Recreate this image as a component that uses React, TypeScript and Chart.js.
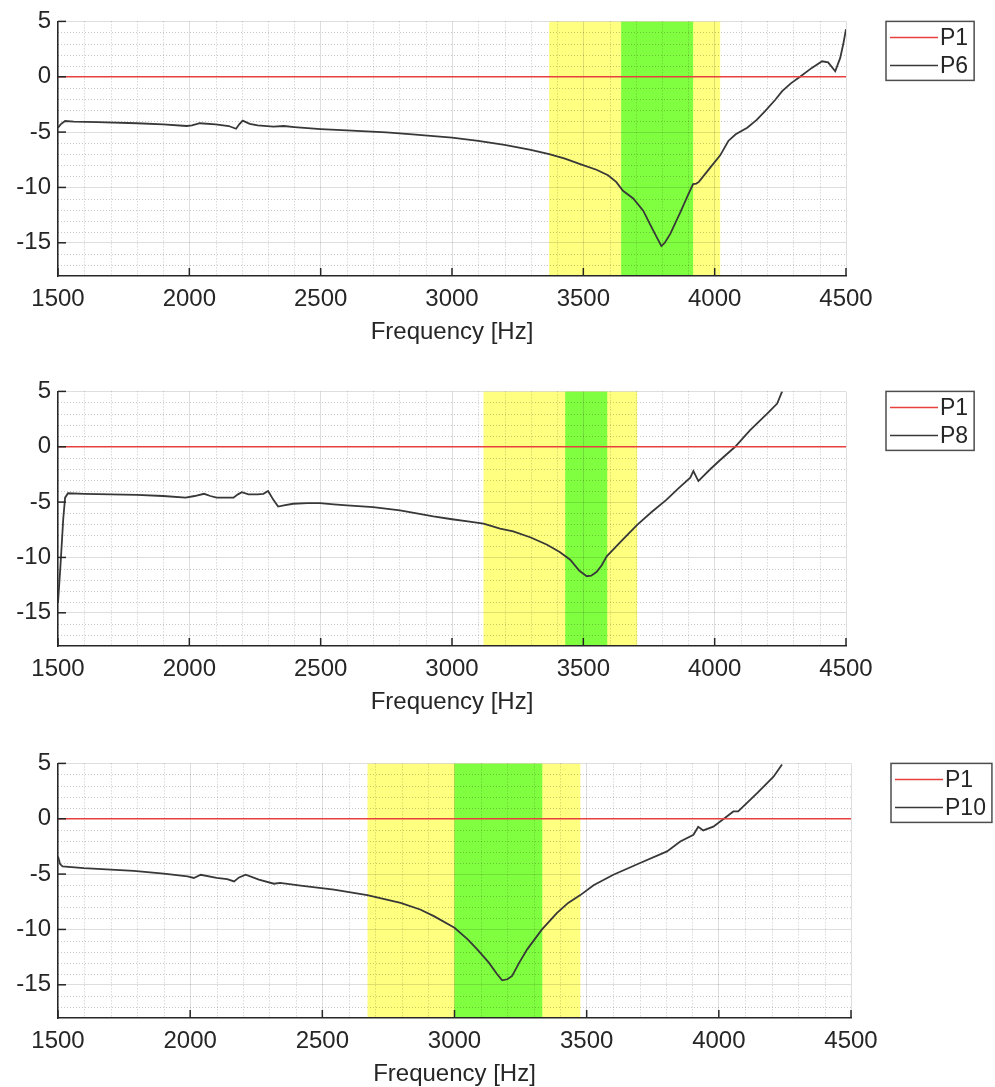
import React, { useEffect, useRef } from "react";
import { Chart, registerables } from "chart.js";

Chart.register(...registerables);

// ---------- data ----------
const X_TICKS = [1500, 2000, 2500, 3000, 3500, 4000, 4500];
const Y_TICKS = [5, 0, -5, -10, -15];
const X_MIN = 1500;
const X_MAX = 4500;
const Y_MIN = -18;
const Y_MAX = 5;

const P1_FREQ = [1500, 4500];
const P1_VALS = [0, 0];

const P6_FREQ = [
  1500, 1510, 1527, 1560, 1650, 1800, 1900, 1990, 2010, 2040, 2100, 2150, 2178, 2190, 2203, 2230, 2260,
  2320, 2360, 2400, 2450, 2500, 2600, 2750, 2850, 3000, 3100, 3200, 3300, 3370, 3430, 3488, 3550, 3594,
  3625, 3651, 3690, 3728, 3760, 3797, 3810, 3831, 3870, 3900, 3918, 3930, 3940, 3980, 4021, 4052, 4080,
  4124, 4160, 4192, 4230, 4257, 4290, 4325, 4370, 4409, 4432, 4459, 4478, 4490, 4500,
];
const P6_VALS = [
  -4.6, -4.3, -4.0, -4.05, -4.1, -4.2, -4.3, -4.45, -4.4, -4.2, -4.3, -4.45, -4.7, -4.3, -3.97, -4.25, -4.4,
  -4.5, -4.45, -4.55, -4.65, -4.73, -4.85, -5.03, -5.2, -5.5, -5.8, -6.15, -6.6, -7.0, -7.4, -7.9, -8.4, -8.9,
  -9.5, -10.3, -11.0, -12.1, -13.6, -15.3, -15.0, -14.2, -12.2, -10.6, -9.7, -9.65, -9.5, -8.3, -7.1, -5.8, -5.2,
  -4.6, -3.9, -3.1, -2.1, -1.3, -0.6, 0.0, 0.8, 1.4, 1.3, 0.5, 1.7, 3.0, 4.3,
];

const P8_FREQ = [
  1500, 1510, 1520, 1527, 1538, 1600, 1700, 1800, 1900, 1986, 2020, 2056, 2080, 2104, 2168, 2185, 2200,
  2225, 2260, 2282, 2300, 2320, 2338, 2360, 2395, 2450, 2497, 2550, 2600, 2700, 2802, 2929, 3000, 3060,
  3120, 3183, 3233, 3300, 3362, 3410, 3450, 3485, 3513, 3530, 3551, 3570, 3589, 3650, 3705, 3760, 3816,
  3860, 3907, 3919, 3938, 3980, 4021, 4078, 4135, 4200, 4238, 4257,
];
const P8_VALS = [
  -14.1, -10.5, -6.5, -4.6, -4.2, -4.25, -4.3, -4.35, -4.45, -4.6, -4.45, -4.25, -4.45, -4.6, -4.6, -4.3, -4.1,
  -4.3, -4.3, -4.25, -4.0, -4.8, -5.4, -5.3, -5.15, -5.1, -5.1, -5.2, -5.3, -5.45, -5.75, -6.3, -6.55, -6.75,
  -6.95, -7.4, -7.65, -8.2, -8.85, -9.5, -10.2, -11.2, -11.7, -11.65, -11.3, -10.7, -9.9, -8.4, -7.05, -5.9, -4.8,
  -3.8, -2.8, -2.2, -3.1, -2.1, -1.2, 0.0, 1.5, 3.0, 3.9, 5.0,
];

const P10_FREQ = [
  1500, 1508, 1517, 1598, 1700, 1787, 1900, 1990, 2014, 2040, 2100, 2140, 2166, 2185, 2210, 2260, 2317,
  2340, 2418, 2544, 2670, 2796, 2870, 2922, 3000, 3050, 3086, 3130, 3160, 3180, 3200, 3218, 3245, 3275,
  3331, 3388, 3430, 3476, 3526, 3601, 3702, 3804, 3854, 3904, 3922, 3941, 3979, 4024, 4055, 4073, 4144,
  4207, 4239,
];
const P10_VALS = [
  -3.4, -4.1, -4.3, -4.46, -4.6, -4.7, -4.95, -5.2, -5.35, -5.06, -5.35, -5.45, -5.66, -5.3, -5.06, -5.5, -5.87,
  -5.8, -6.05, -6.4, -6.9, -7.6, -8.2, -8.8, -9.85, -10.9, -11.8, -13.0, -14.0, -14.6, -14.5, -14.2, -13.0, -11.8,
  -10.0, -8.5, -7.6, -6.9, -6.0, -5.06, -4.0, -2.95, -2.05, -1.45, -0.72, -1.05, -0.72, 0.09, 0.66, 0.66, 2.3,
  3.8, 4.9,
];

// frequency bands [from, to]
const P6_YELLOW = [3370, 4021];
const P6_GREEN = [3644, 3918];
const P8_YELLOW = [3120, 3705];
const P8_GREEN = [3431, 3591];
const P10_YELLOW = [2671, 3476];
const P10_GREEN = [3000, 3332];

// ---------- styling ----------
const FONT = "'Liberation Sans', Arial, Helvetica, sans-serif";
const TEXT = "#262626";
const AXIS = "#262626";
const RED = "#e8403f";
const CURVE = "#383838";
const YELLOW = "#ffff80";
const GREEN = "#80ff40";

type PanelProps = {
  top: number;
  rightPad: number;
  label: string;
  freq: number[];
  vals: number[];
  yellow: number[];
  green: number[];
};

function makeDecor(yellow: number[], green: number[]) {
  return {
    id: "panelDecor",
    beforeDraw(chart: any) {
      const { ctx, chartArea } = chart;
      const { left, right, top, bottom } = chartArea;
      const xs = chart.scales.x;
      ctx.save();
      ctx.beginPath();
      ctx.rect(left, top, right - left, bottom - top);
      ctx.clip();
      const bands = [
        { r: yellow, c: YELLOW },
        { r: green, c: GREEN },
      ];
      for (const b of bands) {
        const x0 = xs.getPixelForValue(b.r[0]);
        const x1 = xs.getPixelForValue(b.r[1]);
        ctx.fillStyle = b.c;
        ctx.fillRect(x0, top, x1 - x0, bottom - top);
      }
      ctx.restore();
    },
    beforeDatasetsDraw(chart: any) {
      const { ctx, chartArea } = chart;
      const { left, right, top, bottom } = chartArea;
      const xs = chart.scales.x;
      const ys = chart.scales.y;
      ctx.save();
      ctx.strokeStyle = "rgba(0,0,0,0.22)";
      ctx.lineWidth = 1;
      ctx.setLineDash([1, 2]);
      for (let f = X_MIN + 100; f < X_MAX; f += 100) {
        if (f % 500 === 0) continue;
        const px = Math.round(xs.getPixelForValue(f)) + 0.5;
        ctx.beginPath();
        ctx.moveTo(px, top);
        ctx.lineTo(px, bottom);
        ctx.stroke();
      }
      for (let v = Y_MIN + 1; v < Y_MAX; v += 1) {
        if (v % 5 === 0) continue;
        const py = Math.round(ys.getPixelForValue(v)) + 0.5;
        ctx.beginPath();
        ctx.moveTo(left, py);
        ctx.lineTo(right, py);
        ctx.stroke();
      }
      ctx.restore();
    },
    afterDraw(chart: any) {
      const { ctx, chartArea } = chart;
      const { left, right, top, bottom } = chartArea;
      const xs = chart.scales.x;
      const ys = chart.scales.y;
      ctx.save();
      // inward ticks
      ctx.strokeStyle = AXIS;
      ctx.lineWidth = 1.5;
      for (const t of X_TICKS) {
        const px = xs.getPixelForValue(t);
        ctx.beginPath();
        ctx.moveTo(px, bottom);
        ctx.lineTo(px, bottom - 8);
        ctx.stroke();
      }
      for (const t of Y_TICKS) {
        const py = ys.getPixelForValue(t);
        ctx.beginPath();
        ctx.moveTo(left, py);
        ctx.lineTo(left + 8, py);
        ctx.stroke();
      }
      // legend
      const ds = chart.data.datasets;
      ctx.font = `23px ${FONT}`;
      let maxW = 0;
      for (const d of ds) maxW = Math.max(maxW, ctx.measureText(d.label).width);
      const bx = right + 40;
      const by = top;
      const bw = 4 + 48 + 3 + maxW + 5;
      const bh = 59;
      ctx.fillStyle = "#ffffff";
      ctx.fillRect(bx, by, bw, bh);
      ctx.strokeStyle = "#4d4d4d";
      ctx.lineWidth = 1.5;
      ctx.strokeRect(bx, by, bw, bh);
      ds.forEach((d: any, i: number) => {
        const ly = by + 16 + i * 28;
        ctx.strokeStyle = d.borderColor;
        ctx.lineWidth = 1.5;
        ctx.beginPath();
        ctx.moveTo(bx + 4, ly);
        ctx.lineTo(bx + 52, ly);
        ctx.stroke();
        ctx.fillStyle = TEXT;
        ctx.textBaseline = "middle";
        ctx.textAlign = "left";
        ctx.fillText(d.label, bx + 54, ly + 1);
      });
      ctx.restore();
    },
  };
}

function Panel({ top, rightPad, label, freq, vals, yellow, green }: PanelProps) {
  const ref = useRef<HTMLCanvasElement>(null);
  useEffect(() => {
    const canvas = ref.current!;
    const chart = new Chart(canvas, {
      type: "line",
      data: {
        datasets: [
          {
            label: "P1",
            data: P1_FREQ.map((f, i) => ({ x: f, y: P1_VALS[i] })),
            borderColor: RED,
            borderWidth: 1.6,
            pointRadius: 0,
            tension: 0,
          },
          {
            label,
            data: freq.map((f, i) => ({ x: f, y: vals[i] })),
            borderColor: CURVE,
            borderWidth: 1.8,
            pointRadius: 0,
            tension: 0,
          },
        ],
      },
      options: {
        responsive: false,
        animation: false,
        events: [],
        layout: { padding: { left: 0, right: rightPad, top: 21, bottom: 0 } },
        plugins: { legend: { display: false }, tooltip: { enabled: false } },
        scales: {
          x: {
            type: "linear",
            min: X_MIN,
            max: X_MAX,
            afterBuildTicks: (s: any) => {
              s.ticks = X_TICKS.map((v) => ({ value: v }));
            },
            afterFit: (s: any) => {
              s.height = 84;
            },
            ticks: {
              autoSkip: false,
              maxRotation: 0,
              padding: 9,
              color: TEXT,
              font: { family: FONT, size: 24 },
              callback: (v: any) => String(v),
            },
            grid: { color: "rgba(0,0,0,0.13)", lineWidth: 1, drawTicks: false },
            border: { color: AXIS, width: 1.5 },
            title: {
              display: true,
              text: "Frequency [Hz]",
              color: TEXT,
              font: { family: FONT, size: 24 },
              padding: { top: 0, bottom: 13 },
            },
          },
          y: {
            type: "linear",
            min: Y_MIN,
            max: Y_MAX,
            afterBuildTicks: (s: any) => {
              s.ticks = Y_TICKS.map((v) => ({ value: v }));
            },
            afterFit: (s: any) => {
              s.width = 58;
            },
            ticks: {
              padding: 7,
              color: TEXT,
              font: { family: FONT, size: 24 },
              callback: (v: any) => String(v),
            },
            grid: { color: "rgba(0,0,0,0.13)", lineWidth: 1, drawTicks: false },
            border: { color: AXIS, width: 1.5 },
          },
        },
      },
      plugins: [makeDecor(yellow, green)],
    } as any);
    return () => chart.destroy();
  }, []);
  return (
    <div style={{ position: "absolute", left: 0, top, width: 995, height: 360 }}>
      <canvas ref={ref} width={995} height={360} style={{ display: "block" }} />
    </div>
  );
}

export default function App() {
  return (
    <div
      style={{
        position: "absolute",
        left: 0,
        top: 0,
        width: 995,
        height: 1087,
        overflow: "hidden",
        background: "#ffffff",
      }}
    >
      <Panel top={0} rightPad={149} label="P6" freq={P6_FREQ} vals={P6_VALS} yellow={P6_YELLOW} green={P6_GREEN} />
      <Panel top={370} rightPad={149} label="P8" freq={P8_FREQ} vals={P8_VALS} yellow={P8_YELLOW} green={P8_GREEN} />
      <Panel top={742} rightPad={144} label="P10" freq={P10_FREQ} vals={P10_VALS} yellow={P10_YELLOW} green={P10_GREEN} />
    </div>
  );
}
